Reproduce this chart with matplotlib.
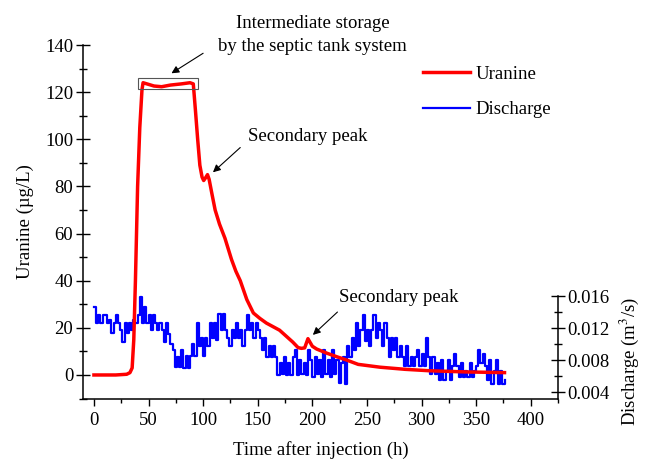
import numpy as np
import matplotlib
matplotlib.use("Agg")
import matplotlib.pyplot as plt
from matplotlib.ticker import MultipleLocator, FixedLocator

plt.rcParams["font.family"] = ["Liberation Serif", "DejaVu Serif"]
plt.rcParams["mathtext.fontset"] = "stix"

# ---------- data ----------
t_uranine = [0, 10, 20, 30, 33, 35, 36.5, 38, 40, 42, 44, 45, 50, 55, 62, 70,
             80, 88, 91, 93, 95, 97, 99, 100.5, 102, 104, 105.5, 108, 111, 115,
             120, 123, 126, 130, 134, 140, 146, 152, 158, 164, 170, 176, 182,
             187, 190, 193, 196, 200, 204, 213, 222, 231, 242, 262, 285, 307,
             340, 376]
uranine = [0, 0, 0, 0.3, 1, 3, 15, 40, 80, 105, 121, 124, 123.3, 122.6, 122.3,
           123, 123.5, 124, 123.5, 112, 100, 89, 84, 82.5, 83.5, 85, 83, 77,
           70, 64, 58, 53.5, 49, 44, 40, 32, 26.3, 24, 22, 20.5, 19, 16.5,
           14, 11.6, 11.3, 11.5, 15.4, 12.2, 11, 9.3, 7.8, 6.4, 4.5, 3.3, 2.4,
           1.8, 1.3, 1.0]

# discharge sampled every 2 h, in L/s
t_discharge = np.arange(0, 378, 2)
discharge_ls = [
    14.6, 12.6, 13.6, 12.6, 13.6, 13.6, 12.6, 13.0, 11.4, 12.6,
    13.6, 12.6, 11.8, 10.3, 12.6, 11.4, 12.6, 11.8, 13.0, 12.6,
    13.6, 15.9, 12.6, 14.6, 12.6, 13.6, 11.8, 13.6, 12.6, 11.8,
    12.6, 11.8, 10.3, 12.6, 11.3, 10.0, 9.3, 7.1, 8.4, 7.1,
    9.3, 7.0, 8.5, 7.0, 8.5, 10.0, 8.5, 12.6, 9.7, 10.7,
    8.5, 10.7, 9.7, 12.6, 10.7, 12.6, 10.5, 13.8, 11.8, 13.8,
    11.8, 10.7, 9.7, 11.8, 10.7, 12.6, 10.7, 11.8, 9.7, 11.8,
    13.6, 11.8, 12.6, 10.7, 12.6, 11.8, 10.7, 9.3, 10.7, 8.4,
    9.7, 8.4, 9.7, 8.4, 6.1, 7.6, 6.3, 8.4, 6.1, 7.6,
    6.1, 8.4, 9.3, 6.1, 8.0, 6.3, 7.6, 6.1, 9.3, 8.0,
    5.9, 8.4, 6.3, 8.0, 5.9, 9.3, 6.3, 8.0, 5.9, 9.3,
    6.3, 8.0, 5.1, 7.6, 8.4, 5.0, 9.7, 8.4, 10.7, 9.3,
    12.6, 9.7, 11.8, 13.6, 10.4, 11.8, 9.7, 11.8, 13.6, 10.7,
    12.6, 11.8, 9.7, 12.6, 10.7, 8.4, 10.7, 9.3, 10.7, 8.4,
    9.7, 8.4, 7.2, 9.7, 7.2, 8.4, 7.2, 8.4, 9.3, 7.2,
    8.8, 7.2, 10.7, 8.4, 6.2, 8.4, 6.2, 7.6, 5.5, 8.0,
    5.5, 6.6, 8.0, 5.5, 7.2, 8.8, 7.2, 5.9, 7.6, 5.9,
    6.6, 5.9, 7.6, 5.9, 6.6, 7.2, 9.3, 7.6, 8.8, 7.2,
    5.5, 8.0, 5.0, 6.6, 8.0, 5.0, 6.6, 5.0, 5.5,
]
discharge = np.array(discharge_ls) / 1000.0

q_major = [0.004, 0.008, 0.012, 0.016]
q_minor = [0.006, 0.010, 0.014]

FS = 13.5

fig = plt.figure(figsize=(6.46, 4.65), dpi=100)
ax = fig.add_axes([0.1285, 0.1419, 0.7353, 0.7613])
ax2 = ax.twinx()
ax2.set_position(ax.get_position())

ax.set_zorder(2)
ax.patch.set_visible(False)

l_dis, = ax2.plot(t_discharge, discharge, drawstyle="steps-post",
                  color="#0000ff", lw=1.6, label="Discharge")
l_ura, = ax.plot(t_uranine, uranine, color="#ff0000", lw=2.5,
                 label="Uranine", zorder=3)

# left axis
ax.set_xlim(-10, 425)
ax.set_ylim(-10.2, 140)
ax.xaxis.set_major_locator(MultipleLocator(50))
ax.xaxis.set_minor_locator(MultipleLocator(25))
ax.yaxis.set_major_locator(MultipleLocator(20))
ax.yaxis.set_minor_locator(MultipleLocator(10))
ax.spines["top"].set_visible(False)
ax.spines["right"].set_visible(False)
ax.tick_params(axis="x", which="major", direction="out", length=5, width=1,
               labelsize=FS, pad=4)
ax.tick_params(axis="x", which="minor", direction="out", length=3, width=1)
ax.tick_params(axis="y", which="major", direction="inout", length=10, width=1,
               labelsize=FS, pad=2)
ax.tick_params(axis="y", which="minor", direction="inout", length=6, width=1)
ax.set_xlabel("Time after injection (h)", fontsize=FS, labelpad=9)
ax.set_ylabel("Uranine (µg/L)", fontsize=FS, labelpad=8)

# right axis
ax2.set_ylim(0.00313, 0.0474)
ax2.yaxis.set_major_locator(FixedLocator(q_major))
ax2.yaxis.set_minor_locator(FixedLocator(q_minor))
ax2.set_yticklabels([f"{q:.3f}" for q in q_major])
ax2.spines["top"].set_visible(False)
ax2.spines["left"].set_visible(False)
ax2.spines["bottom"].set_visible(False)
ax2.spines["right"].set_bounds(0.00313, 0.016)
ax2.tick_params(axis="y", which="major", direction="inout", length=10, width=1,
                labelsize=FS, pad=2)
ax2.tick_params(axis="y", which="minor", direction="inout", length=6, width=1)
ax2.set_ylabel("Discharge (m$^3$/s)", fontsize=FS)
ax2.yaxis.set_label_coords(1.125, 0.105)

for a in (ax, ax2):
    for s in a.spines.values():
        s.set_linewidth(1.1)

# annotation: storage box
box_x0, box_x1, box_y0, box_y1 = 40.5, 95, 121.2, 125.8
ax.add_patch(plt.Rectangle((box_x0, box_y0), box_x1 - box_x0, box_y1 - box_y0,
                           fill=False, edgecolor="#555555", lw=0.8, zorder=4))

arrow = dict(arrowstyle="-|>", color="black", lw=0.8, mutation_scale=11,
             shrinkA=0, shrinkB=0)
ax.annotate("", xy=(71, 128), xytext=(100, 136.5), arrowprops=arrow,
            annotation_clip=False)
ax.text(200, 144.3, "Intermediate storage\nby the septic tank system",
        fontsize=FS, ha="center", va="center", linespacing=1.5)

ax.annotate("", xy=(109, 86), xytext=(134, 96.5), arrowprops=arrow)
ax.text(196, 101, "Secondary peak", fontsize=FS, ha="center", va="center")

ax.annotate("", xy=(200.5, 17), xytext=(223, 26.7), arrowprops=arrow)
ax.text(279, 33, "Secondary peak", fontsize=FS, ha="center", va="center")

ax.legend([l_ura, l_dis], ["Uranine", "Discharge"], loc="upper left",
          bbox_to_anchor=(0.68, 0.99), frameon=False, fontsize=FS,
          handlelength=2.5, handletextpad=0.3, labelspacing=1.0)

fig.savefig("out.png", dpi=100)
